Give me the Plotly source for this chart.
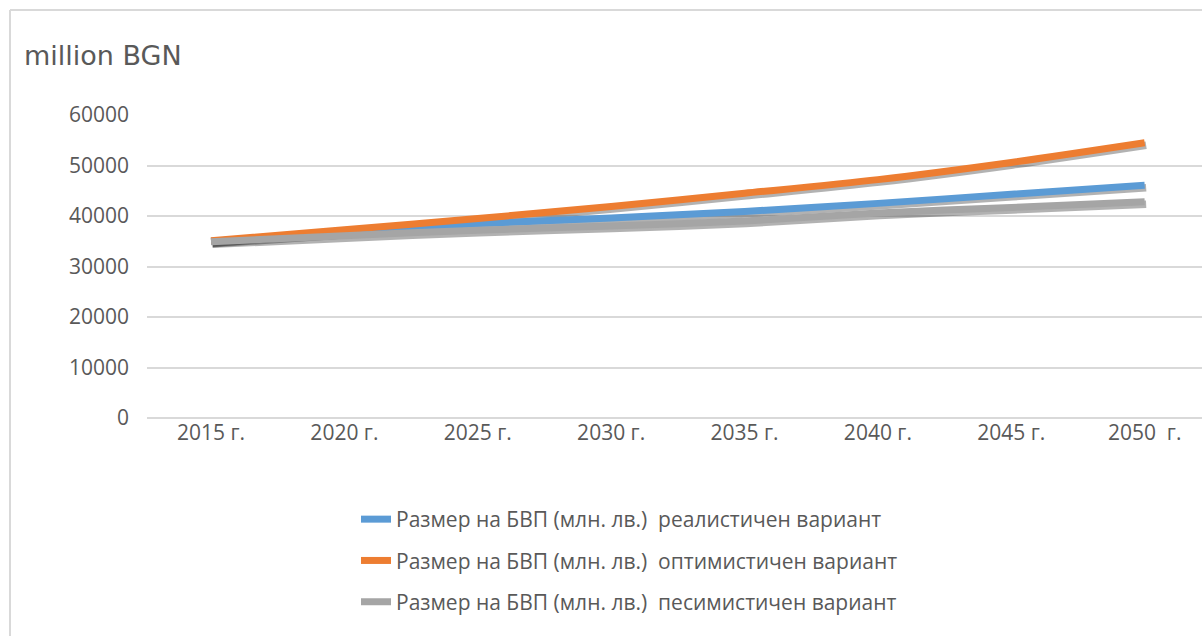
import plotly.graph_objects as go

# ---- data ----
years = ["2015 г.", "2020 г.", "2025 г.", "2030 г.", "2035 г.", "2040 г.", "2045 г.", "2050  г."]
realistic = [35000, 36800, 38500, 39600, 40900, 42500, 44300, 46100]
optimistic = [35100, 37300, 39500, 41900, 44500, 47200, 50600, 54500]
pessimistic = [34900, 36100, 37200, 38000, 39000, 40600, 41700, 42800]
series_names = [
    "Размер на БВП (млн. лв.)  реалистичен вариант",
    "Размер на БВП (млн. лв.)  оптимистичен вариант",
    "Размер на БВП (млн. лв.)  песимистичен вариант",
]
series_values = [realistic, optimistic, pessimistic]
colors = ["#5B9BD5", "#ED7D31", "#A5A5A5"]
y_ticks = [0, 10000, 20000, 30000, 40000, 50000, 60000]
y_ticklabels = [str(v) for v in y_ticks]

idx = list(range(len(years)))
TEXT = "#595959"
FONT = "Open Sans"

# layout geometry
W, H = 1202, 636
L, R, T, B = 147, 0, 115, 218
plot_w = W - L - R
plot_h = H - T - B
x_range = [-0.48, 7.43]
y_range = [0, 60000]
# shadow offset (px -> data units)
dx = 1.5 * (x_range[1] - x_range[0]) / plot_w
dy = 2.5 * (y_range[1] - y_range[0]) / plot_h

fig = go.Figure()

# invisible trace so the base axes (grid + tick labels) are drawn
fig.add_trace(go.Scatter(x=idx, y=realistic, mode="lines",
                         line=dict(width=0, color="rgba(0,0,0,0)"),
                         showlegend=False, hoverinfo="skip"))

# soft shadows (on slightly shifted overlay axes, drawn beneath the lines)
for vals in series_values:
    fig.add_trace(go.Scatter(
        x=idx, y=vals, mode="lines", xaxis="x2", yaxis="y2",
        line=dict(color="rgba(0,0,0,0.3)", width=7.5, shape="spline", smoothing=0.8),
        showlegend=False, hoverinfo="skip"))

# real lines
for name, vals, c in zip(series_names, series_values, colors):
    fig.add_trace(go.Scatter(
        x=idx, y=vals, mode="lines", name=name, xaxis="x3", yaxis="y3",
        line=dict(color=c, width=7, shape="spline", smoothing=0.8),
        legendgroup=name))

axis_hidden = dict(visible=False, showgrid=False, zeroline=False, fixedrange=True)

fig.update_layout(
    width=W, height=H,
    margin=dict(l=L, r=R, t=T, b=B, autoexpand=False),
    paper_bgcolor="white", plot_bgcolor="white",
    font=dict(family=FONT, color=TEXT),
    xaxis=dict(range=x_range, tickvals=idx, ticktext=years, showgrid=False,
               zeroline=False, showline=False, ticks="",
               tickfont=dict(size=21, color=TEXT, family=FONT)),
    yaxis=dict(range=y_range, tickvals=y_ticks, ticktext=y_ticklabels,
               showgrid=True, gridcolor="#D9D9D9", gridwidth=2,
               zeroline=True, zerolinecolor="#D9D9D9", zerolinewidth=2,
               showline=False, ticks="", ticklabelstandoff=17,
               tickfont=dict(size=21, color=TEXT, family=FONT)),
    xaxis2=dict(range=[x_range[0] - dx, x_range[1] - dx], overlaying="x", **axis_hidden),
    yaxis2=dict(range=[y_range[0] + dy, y_range[1] + dy], overlaying="y", **axis_hidden),
    xaxis3=dict(range=x_range, overlaying="x", **axis_hidden),
    yaxis3=dict(range=y_range, overlaying="y", **axis_hidden),
    showlegend=True,
    legend=dict(
        orientation="v", x=(356 - L) / plot_w, xanchor="left",
        y=(H - B - 499) / plot_h, yanchor="top",
        font=dict(size=21, color=TEXT, family=FONT),
        tracegroupgap=11, bgcolor="rgba(0,0,0,0)", itemwidth=30,
    ),
    annotations=[dict(
        text="million BGN", xref="paper", yref="paper",
        x=(22 - L) / plot_w, y=(H - B - 55) / plot_h, xanchor="left", yanchor="middle",
        showarrow=False, font=dict(family="DejaVu Sans", size=27, color=TEXT))],
    shapes=[
        dict(type="line", xref="paper", yref="paper",
             x0=(10 - L) / plot_w, x1=(10 - L) / plot_w,
             y0=(H - B - 10) / plot_h, y1=(H - B - H) / plot_h,
             line=dict(color="#D9D9D9", width=2)),
        dict(type="line", xref="paper", yref="paper",
             x0=(10 - L) / plot_w, x1=1.0,
             y0=(H - B - 10) / plot_h, y1=(H - B - 10) / plot_h,
             line=dict(color="#D9D9D9", width=2)),
    ],
)

fig.write_html("out.html",
               config={"displayModeBar": False},
               post_script="document.body.style.margin='0';document.body.style.overflow='hidden';")
